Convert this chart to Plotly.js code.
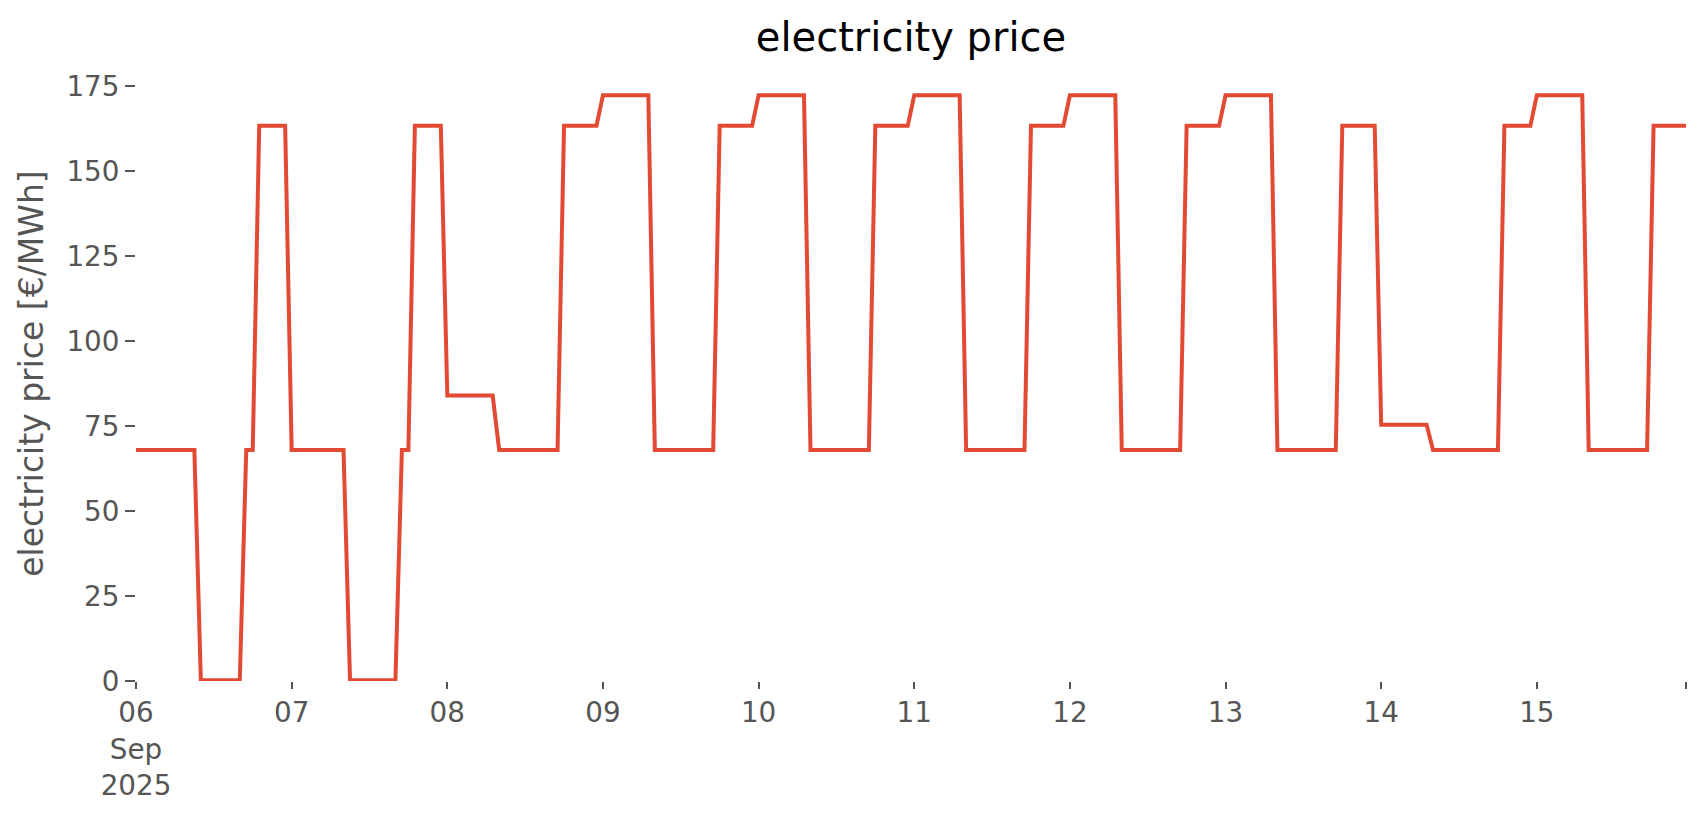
<!DOCTYPE html>
<html><head><meta charset="utf-8">
<script src="https://cdn.plot.ly/plotly-3.0.1.min.js"></script>
<style>html,body{margin:0;padding:0;background:#fff}</style>
</head><body><div id="chart" style="width:1706px;height:815px"></div>
<script>
// Hourly electricity price [€/MWh], one array per day (hours 00..23)
const days = ["2025-09-06","2025-09-07","2025-09-08","2025-09-09","2025-09-10",
              "2025-09-11","2025-09-12","2025-09-13","2025-09-14","2025-09-15"];
const price_sep06 = [68,68,68,68,68,68,68,68,68,68, 0.2,0.2,0.2,0.2,0.2,0.2,0.2, 68,68, 163.4,163.4,163.4,163.4,163.4];
const price_sep07 = [68,68,68,68,68,68,68,68,68, 0.2,0.2,0.2,0.2,0.2,0.2,0.2,0.2, 68,68, 163.4,163.4,163.4,163.4,163.4];
const price_sep08 = [84,84,84,84,84,84,84,84, 68,68,68,68,68,68,68,68,68,68, 163.4,163.4,163.4,163.4,163.4,163.4];
const price_sep09 = [172.4,172.4,172.4,172.4,172.4,172.4,172.4,172.4, 68,68,68,68,68,68,68,68,68,68, 163.4,163.4,163.4,163.4,163.4,163.4];
const price_sep10 = [172.4,172.4,172.4,172.4,172.4,172.4,172.4,172.4, 68,68,68,68,68,68,68,68,68,68, 163.4,163.4,163.4,163.4,163.4,163.4];
const price_sep11 = [172.4,172.4,172.4,172.4,172.4,172.4,172.4,172.4, 68,68,68,68,68,68,68,68,68,68, 163.4,163.4,163.4,163.4,163.4,163.4];
const price_sep12 = [172.4,172.4,172.4,172.4,172.4,172.4,172.4,172.4, 68,68,68,68,68,68,68,68,68,68, 163.4,163.4,163.4,163.4,163.4,163.4];
const price_sep13 = [172.4,172.4,172.4,172.4,172.4,172.4,172.4,172.4, 68,68,68,68,68,68,68,68,68,68, 163.4,163.4,163.4,163.4,163.4,163.4];
const price_sep14 = [75.4,75.4,75.4,75.4,75.4,75.4,75.4,75.4, 68,68,68,68,68,68,68,68,68,68,68, 163.4,163.4,163.4,163.4,163.4];
const price_sep15 = [172.4,172.4,172.4,172.4,172.4,172.4,172.4,172.4, 68,68,68,68,68,68,68,68,68,68, 163.4,163.4,163.4,163.4,163.4,163.4];
const dailyPrices = [price_sep06,price_sep07,price_sep08,price_sep09,price_sep10,
                     price_sep11,price_sep12,price_sep13,price_sep14,price_sep15];
const dayTickLabels = ["06<br>Sep<br>2025","07","08","09","10","11","12","13","14","15"];
const yTicks = [0,25,50,75,100,125,150,175];
const startTime = "2025-09-06 00:00";
const endTime = "2025-09-15 23:00";

const x = [], y = [];
dailyPrices.forEach((arr, i) => arr.forEach((v, h) => {
  x.push(days[i] + " " + String(h).padStart(2, "0") + ":00");
  y.push(v);
}));

const font = "DejaVu Sans, sans-serif";
const grey = "#555555";

const trace = {
  x: x, y: y, type: "scatter", mode: "lines",
  line: {color: "#E24A33", width: 4}, hoverinfo: "x+y", showlegend: false
};

const layout = {
  width: 1706, height: 815,
  paper_bgcolor: "#ffffff", plot_bgcolor: "#ffffff",
  margin: {l: 136, r: 20, t: 66, b: 134, pad: 0},
  font: {family: font, color: grey},
  title: {text: "electricity price", font: {family: font, size: 40, color: "#000000"},
          xref: "paper", x: 0.5, xanchor: "center",
          yref: "container", y: 1 - 37/815, yanchor: "middle"},
  xaxis: {
    type: "date", range: [startTime, endTime],
    tickmode: "array", tickvals: days.concat([endTime]), ticktext: dayTickLabels.concat([""]),
    ticks: "outside", ticklen: 7, tickwidth: 2, tickcolor: grey,
    tickfont: {family: font, size: 27.8, color: grey},
    showgrid: false, zeroline: false, showline: false, automargin: false, fixedrange: true
  },
  xaxis2: {
    type: "date", overlaying: "x", matches: "x", side: "bottom", anchor: "y",
    range: [startTime, endTime],
    tickmode: "array", tickvals: [startTime, endTime], ticktext: ["", ""],
    ticks: "outside", ticklen: 11, tickwidth: 2, tickcolor: grey,
    showgrid: false, zeroline: false, showline: false, automargin: false
  },
  yaxis: {
    range: [0, 181], tickmode: "array", tickvals: yTicks, ticktext: yTicks.map(String),
    ticks: "outside", ticklen: 10, tickwidth: 2, tickcolor: grey,
    tickfont: {family: font, size: 27.8, color: grey},
    showgrid: false, zeroline: false, showline: false, automargin: false, fixedrange: true,
    title: {text: "electricity price [€/MWh]", font: {family: font, size: 33, color: grey}, standoff: 12}
  }
};

Plotly.newPlot("chart", [trace], layout, {displayModeBar: false, staticPlot: true});
</script></body></html>
